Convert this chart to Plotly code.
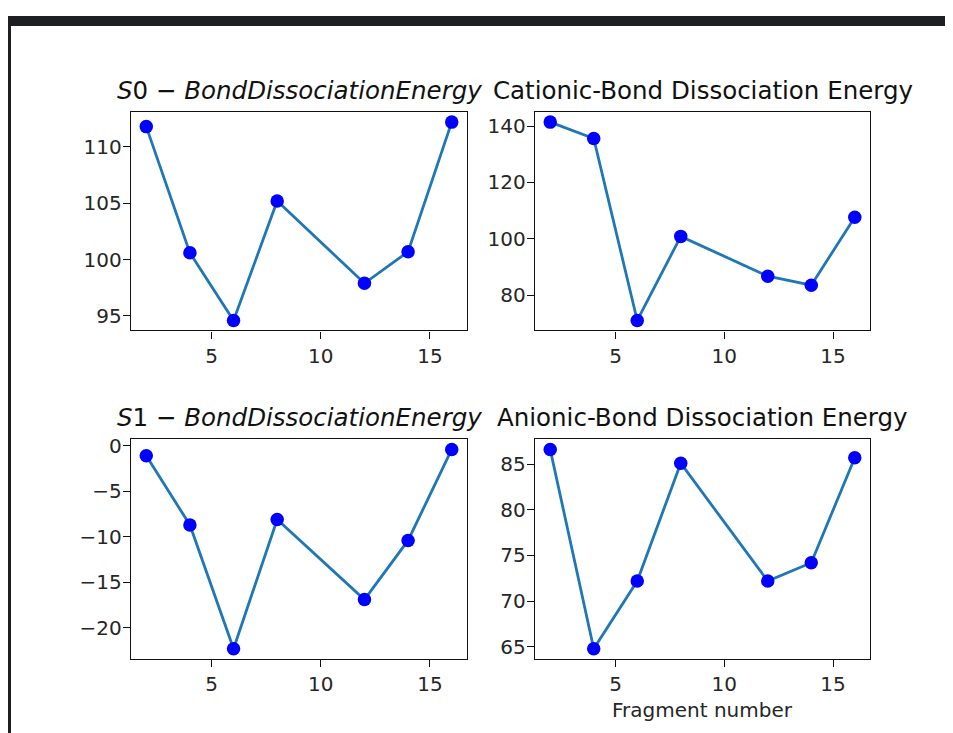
import plotly.graph_objects as go

# ---- data ----
fragments = [2, 4, 6, 8, 12, 14, 16]
s0_bde = [111.8, 100.6, 94.6, 105.2, 97.9, 100.7, 112.2]
cationic_bde = [141.4, 135.6, 71.1, 100.9, 86.8, 83.6, 107.7]
s1_bde = [-1.1, -8.7, -22.3, -8.1, -16.9, -10.4, -0.4]
anionic_bde = [86.6, 64.8, 72.2, 85.1, 72.2, 74.2, 85.7]

titles = [
    "<i>S</i>0 − <i>BondDissociationEnergy</i>",
    "Cationic-Bond Dissociation Energy",
    "<i>S</i>1 − <i>BondDissociationEnergy</i>",
    "Anionic-Bond Dissociation Energy",
]
x_ticks = [5, 10, 15]
y_dticks = [5, 20, 5, 5]
x_label = "Fragment number"

W, H = 953, 733
OX, OY = 8, 8          # page offset of the plot div (browser body margin)
FONT = "DejaVu Sans"
TICK_FS = 20
TITLE_FS = 24.5

# plot-area boxes in page pixels: (left, right, top, bottom)
boxes = [
    (131, 467, 107, 327),
    (535, 870, 107, 327),
    (131, 467, 437, 658),
    (535, 870, 437, 658),
]


def px(x):
    return (x - OX) / W


def py(y):
    return 1 - (y - OY) / H


def pad_range(v, frac=0.05):
    lo, hi = min(v), max(v)
    d = (hi - lo) * frac
    return [lo - d, hi + d]


series = [s0_bde, cationic_bde, s1_bde, anionic_bde]

fig = go.Figure()
layout = dict(
    width=W, height=H,
    margin=dict(l=0, r=0, t=0, b=0),
    paper_bgcolor="white", plot_bgcolor="white",
    showlegend=False,
    font=dict(family=FONT, size=TICK_FS, color="#222222"),
)
annotations = []

for i, (vals, box, title, dt) in enumerate(zip(series, boxes, titles, y_dticks)):
    n = "" if i == 0 else str(i + 1)
    l, r, t, b = box
    xd = [px(l), px(r)]
    yd = [py(b), py(t)]
    fig.add_trace(go.Scatter(
        x=fragments, y=vals, mode="lines+markers",
        line=dict(color="#1f77b4", width=2.8),
        marker=dict(color="#0000ff", size=13.5, line=dict(width=0)),
        xaxis="x" + n, yaxis="y" + n, hoverinfo="skip",
    ))
    axis_common = dict(
        showline=True, linecolor="#111111", linewidth=1.4, mirror=True,
        ticks="outside", ticklen=7, tickwidth=1.4, tickcolor="#111111",
        showgrid=False, zeroline=False,
        tickfont=dict(family=FONT, size=TICK_FS, color="#262626"),
    )
    layout["xaxis" + n] = dict(
        domain=xd, anchor="y" + n, range=pad_range(fragments),
        tickmode="array", tickvals=x_ticks, **axis_common,
    )
    layout["yaxis" + n] = dict(
        domain=yd, anchor="x" + n, range=pad_range(vals),
        tick0=0, dtick=dt, ticklabelstandoff=-3, **axis_common,
    )
    annotations.append(dict(
        text=title, xref="paper", yref="paper",
        x=(xd[0] + xd[1]) / 2, y=yd[1], xanchor="center", yanchor="bottom",
        yshift=5, showarrow=False,
        font=dict(family=FONT, size=TITLE_FS, color="#111111"),
    ))

# x-axis label under bottom-right panel
l, r, t, b = boxes[3]
annotations.append(dict(
    text=x_label, xref="paper", yref="paper",
    x=(px(l) + px(r)) / 2, y=py(b), xanchor="center", yanchor="top",
    yshift=-37, showarrow=False,
    font=dict(family=FONT, size=TICK_FS, color="#262626"),
))

layout["annotations"] = annotations
# screenshot frame: dark bar on top and on the left
layout["shapes"] = [
    dict(type="rect", xref="paper", yref="paper",
         x0=px(8), x1=1, y0=py(20), y1=py(10),
         fillcolor="#1e1f22", line=dict(width=0), layer="above"),
    dict(type="rect", xref="paper", yref="paper",
         x0=px(8), x1=px(11), y0=0, y1=py(10),
         fillcolor="#1e1f22", line=dict(width=0), layer="above"),
]

fig.update_layout(**layout)
fig.write_html("out.html")
